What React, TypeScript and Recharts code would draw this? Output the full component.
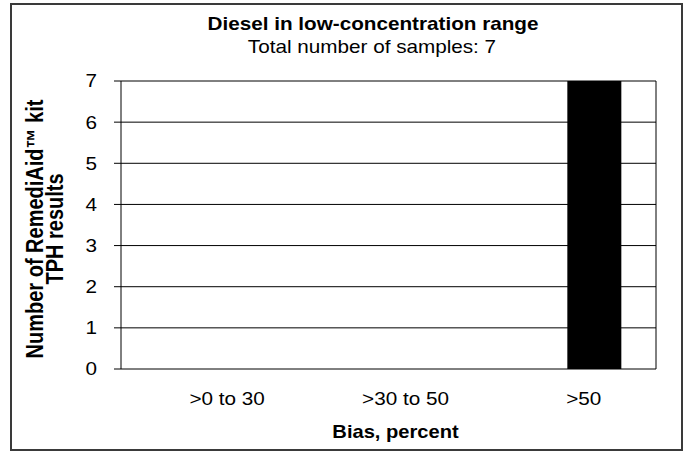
import React from 'react';
import { BarChart, Bar, XAxis, YAxis, CartesianGrid } from 'recharts';

// values
const categories = ['>0 to 30', '>30 to 50', '>50'];
const emptySeries = [0, 0, 0];
const countSeries = [0, 0, 7];
const yTicks = [0, 1, 2, 3, 4, 5, 6, 7];

const chartTitle = 'Diesel in low-concentration range';
const chartSubtitle = 'Total number of samples: 7';
const xTitle = 'Bias, percent';
const yTitleLines = ['Number of RemediAid\u2122 kit', 'TPH results'];

const FONT = '"Liberation Sans", Arial, sans-serif';
// the source picture is a bit wider than tall, so text gets stretched sideways
const SX = 1.15;

const data = categories.map((name, i) => ({
  name,
  pos: i + 0.5,
  empty: emptySeries[i],
  count: countSeries[i],
}));
// tick marks sit on the category edges, Excel style
const edgeTicks = [...categories.map((_, i) => i), categories.length];

const XTick = (props: any) => {
  const { x, y, payload } = props;
  return (
    <text
      transform={`translate(${x + 17},${y}) scale(${SX},1)`}
      textAnchor="middle"
      dy="0.71em"
      fontSize={18}
      fontFamily={FONT}
      fill="#000"
    >
      {payload.value}
    </text>
  );
};

const YTick = (props: any) => {
  const { x, y, payload } = props;
  return (
    <text
      transform={`translate(${x},${y}) scale(${SX},1)`}
      textAnchor="end"
      dy="0.355em"
      fontSize={18}
      fontFamily={FONT}
      fill="#000"
    >
      {payload.value}
    </text>
  );
};

const YTitle = (props: any) => {
  const vb = props.viewBox;
  const cy = vb.y + vb.height / 2 + 4;
  return (
    <g>
      {yTitleLines.map((line, i) => (
        <text
          key={line}
          transform={`translate(${vb.x + 43 + i * 20},${cy}) scale(${SX},1) rotate(-90)`}
          textAnchor="middle"
          fontSize={20}
          fontWeight="bold"
          fontFamily={FONT}
          fill="#000"
        >
          {line}
        </text>
      ))}
    </g>
  );
};

const XTitle = (props: any) => {
  const vb = props.viewBox;
  return (
    <text
      transform={`translate(${vb.x + vb.width / 2 + 7},${vb.y + 69}) scale(${SX},1)`}
      textAnchor="middle"
      fontSize={17.5}
      fontWeight="bold"
      fontFamily={FONT}
      fill="#000"
    >
      {xTitle}
    </text>
  );
};

export default function App() {
  return (
    <div style={{ position: 'absolute', left: 0, top: 0, width: 688, height: 451, background: '#fff' }}>
      <div
        style={{
          position: 'absolute',
          left: 10,
          top: 3,
          width: 673,
          height: 448,
          boxSizing: 'border-box',
          border: '2px solid #3a3a3a',
        }}
      />
      <svg width={688} height={70} style={{ position: 'absolute', left: 0, top: 0 }}>
        <text
          transform={`translate(373,30) scale(${SX},1)`}
          textAnchor="middle"
          fontSize={18}
          fontWeight="bold"
          fontFamily={FONT}
          fill="#000"
        >
          {chartTitle}
        </text>
        <text
          transform={`translate(372,53) scale(${SX},1)`}
          textAnchor="middle"
          fontSize={18}
          fontFamily={FONT}
          fill="#000"
        >
          {chartSubtitle}
        </text>
      </svg>
      <div style={{ position: 'absolute', left: 0, top: 0 }}>
        <BarChart
          width={688}
          height={451}
          data={data}
          margin={{ top: 81, right: 32, left: 0, bottom: 0 }}
          barGap={0}
          barCategoryGap="20%"
        >
          <CartesianGrid
            stroke="#000"
            strokeWidth={1}
            verticalCoordinatesGenerator={({ offset }: any) => [offset.left + offset.width]}
          />
          <XAxis
            xAxisId="edge"
            type="number"
            dataKey="pos"
            domain={[0, categories.length]}
            ticks={edgeTicks}
            allowDataOverflow
            tick={false}
            tickSize={6}
            axisLine={{ stroke: '#000' }}
            tickLine={{ stroke: '#000' }}
            height={0}
          />
          <XAxis
            dataKey="name"
            interval={0}
            axisLine={false}
            tickLine={false}
            tickSize={6}
            tickMargin={17}
            height={82}
            tick={<XTick />}
            label={<XTitle />}
          />
          <YAxis
            domain={[0, 7]}
            ticks={yTicks}
            width={121}
            tickSize={7}
            tickMargin={17}
            axisLine={{ stroke: '#000' }}
            tickLine={{ stroke: '#000' }}
            tick={<YTick />}
            label={<YTitle />}
          />
          <Bar dataKey="empty" fill="#000" isAnimationActive={false} />
          <Bar dataKey="count" fill="#000" isAnimationActive={false} />
        </BarChart>
      </div>
    </div>
  );
}
